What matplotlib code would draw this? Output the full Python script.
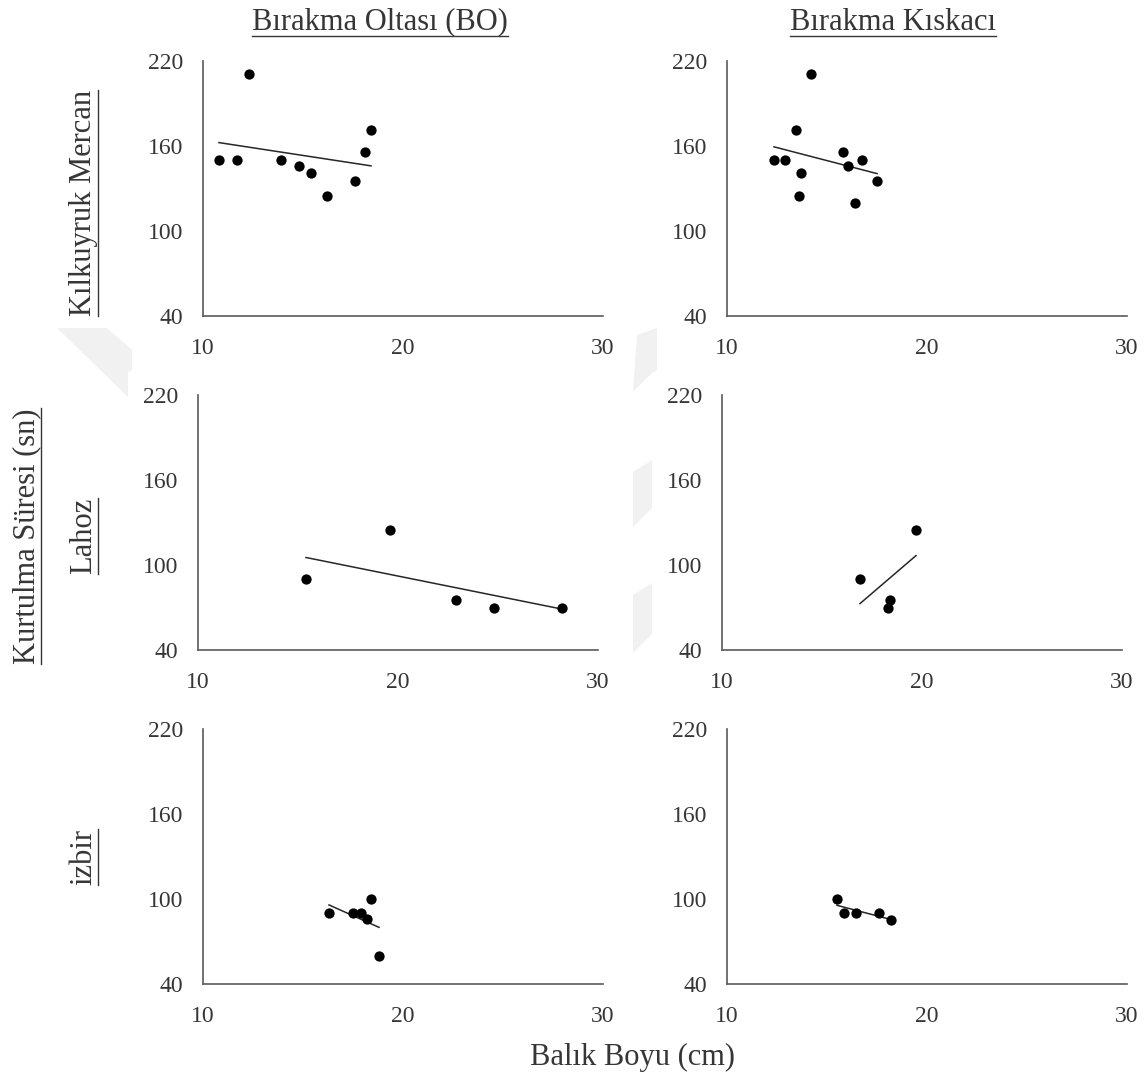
import numpy as np
import matplotlib
matplotlib.use("Agg")
import matplotlib.pyplot as plt
from matplotlib.lines import Line2D
from matplotlib.patches import Polygon

plt.rcParams["font.family"] = ["Liberation Serif", "DejaVu Serif"]

# data (x = fish length cm, y = escape time sn)
bo_kil_x = [10.8, 11.7, 12.3, 13.9, 14.8, 15.4, 16.2, 17.6, 18.1, 18.4]
bo_kil_y = [150, 150, 211, 150, 146, 141, 125, 135, 156, 171]
bk_kil_x = [12.35, 12.9, 13.45, 13.6, 13.7, 14.2, 15.8, 16.05, 16.4, 16.75, 17.5]
bk_kil_y = [150, 150, 171, 125, 141, 211, 156, 146, 120, 150, 135]

bo_lah_x = [15.4, 19.6, 22.9, 24.8, 28.2]
bo_lah_y = [90, 125, 75, 70, 70]
bk_lah_x = [16.9, 18.3, 18.4, 19.7]
bk_lah_y = [90, 70, 75, 125]

bo_izb_x = [16.3, 17.5, 17.9, 18.2, 18.4, 18.8]
bo_izb_y = [90, 90, 90, 86, 100, 60]
bk_izb_x = [15.5, 15.85, 16.45, 17.6, 18.2]
bk_izb_y = [100, 90, 90, 90, 85]

col_titles = ["Bırakma Oltası (BO)", "Bırakma Kıskacı"]
row_titles = ["Kılkuyruk Mercan", "Lahoz", "izbir"]
x_ticks = [10, 20, 30]
y_ticks = [40, 100, 160, 220]

panels = [
    [(bo_kil_x, bo_kil_y), (bk_kil_x, bk_kil_y)],
    [(bo_lah_x, bo_lah_y), (bk_lah_x, bk_lah_y)],
    [(bo_izb_x, bo_izb_y), (bk_izb_x, bk_izb_y)],
]

W, H = 1148, 1079
TEXT = "#363636"
AXIS = "#5a5a5a"

# axes boxes in pixels: left, right, top, bottom
boxes = [
    [(203, 603, 61, 316), (727, 1127, 61, 316)],
    [(198, 598, 395, 650), (722, 1122, 395, 650)],
    [(203, 603, 729, 984), (727, 1127, 729, 984)],
]

fig = plt.figure(figsize=(W / 100, H / 100), dpi=100)
fig.patch.set_facecolor("white")

# faint scan artefacts between panels
shapes = [
    [(57, 328), (107, 328), (132, 350), (132, 370), (128, 372), (128, 397)],
    [(637, 335), (657, 328), (657, 370), (652, 373), (633, 392)],
    [(633, 472), (652, 460), (652, 508), (633, 527)],
    [(633, 595), (652, 583), (652, 634), (633, 653)],
]
for pts in shapes:
    fig.patches.append(Polygon([(x / W, 1 - y / H) for x, y in pts], closed=True,
                               transform=fig.transFigure, facecolor="#f1f1f1",
                               edgecolor="none", zorder=0))

for r in range(3):
    for c in range(2):
        l, rr, t, b = boxes[r][c]
        ax = fig.add_axes([l / W, 1 - b / H, (rr - l) / W, (b - t) / H])
        xs, ys = panels[r][c]
        ax.scatter(xs, ys, s=55, color="black", zorder=3, linewidths=0)
        k, m = np.polyfit(xs, ys, 1)
        fx = np.array([min(xs), max(xs)])
        ax.plot(fx, k * fx + m, color="#262626", linewidth=1.1, zorder=2)
        ax.set_xlim(10, 30)
        ax.set_ylim(40, 220)
        ax.set_xticks(x_ticks)
        ax.set_yticks(y_ticks)
        ax.tick_params(length=0, labelsize=17, labelcolor=TEXT)
        ax.tick_params(axis="y", pad=14)
        ax.tick_params(axis="x", pad=16)
        for s in ["top", "right"]:
            ax.spines[s].set_visible(False)
        for s in ["left", "bottom"]:
            ax.spines[s].set_color(AXIS)
            ax.spines[s].set_linewidth(1.2)
        ax.set_facecolor("none")

texts = []
texts.append((fig.text(380 / W, 1 - 22 / H, col_titles[0], ha="center", va="center",
                       fontsize=22, color=TEXT), 0))
texts.append((fig.text(893 / W, 1 - 22 / H, col_titles[1], ha="center", va="center",
                       fontsize=22, color=TEXT), 0))
row_y = [203, 536, 857]
for name, yy in zip(row_titles, row_y):
    texts.append((fig.text(84 / W, 1 - yy / H, name, ha="center", va="center",
                           rotation=90, fontsize=22, color=TEXT), 90))
texts.append((fig.text(27 / W, 1 - 536 / H, "Kurtulma Süresi (sn)", ha="center",
                       va="center", rotation=90, fontsize=22, color=TEXT), 90))

fig.text(632 / W, 1 - 1057 / H, "Balık Boyu (cm)", ha="center", va="center",
         fontsize=22, color=TEXT)

# underline the titles
renderer = fig.canvas.get_renderer()
for t, rot in texts:
    bb = t.get_window_extent(renderer)
    if rot == 0:
        yline = (bb.y0 + 1) / H
        fig.add_artist(Line2D([bb.x0 / W, bb.x1 / W], [yline, yline],
                              transform=fig.transFigure, color=TEXT, linewidth=1.0))
    else:
        xline = (bb.x1 - 1) / W
        fig.add_artist(Line2D([xline, xline], [bb.y0 / H, bb.y1 / H],
                              transform=fig.transFigure, color=TEXT, linewidth=1.0))

fig.savefig("out.png", dpi=100, facecolor="white")
plt.close(fig)
print("Saved: out.png")
